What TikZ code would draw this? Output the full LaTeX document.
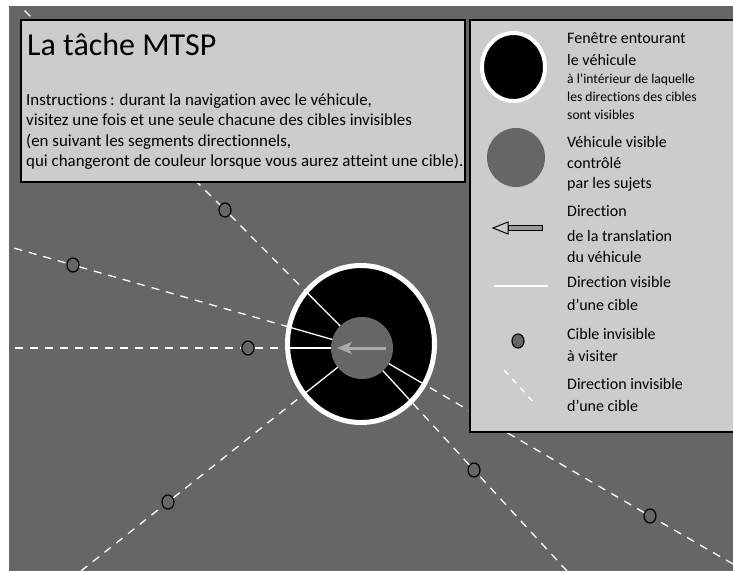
\documentclass[tikz,border=0pt]{standalone}
\usepackage{fontspec}
\setmainfont{Carlito}[Ligatures=NoCommon]
\usetikzlibrary{shapes.geometric,arrows.meta}
\definecolor{bggray}{HTML}{666666}
\definecolor{boxgray}{HTML}{CCCCCC}
\definecolor{arrowgray}{HTML}{AAAAAA}
\definecolor{shaftgray}{HTML}{999999}
\begin{document}
\begin{tikzpicture}[x=1pt,y=-1pt,
  invis/.style={draw=white, line width=1.3pt, dash pattern=on 8pt off 7pt},
  vis/.style={draw=white, line width=1.3pt},
  target/.style={ellipse, draw=black, line width=1.2pt, fill=bggray, minimum width=12pt, minimum height=14pt, inner sep=0pt},
  panel/.style={draw=black, line width=1.5pt, fill=boxgray, inner sep=0pt},
  bigtxt/.style={anchor=base west, inner sep=0pt, font=\fontsize{16}{18}\selectfont},
  smalltxt/.style={anchor=base west, inner sep=0pt, font=\fontsize{13.6}{15}\selectfont},
  instr/.style={anchor=base west, inner sep=0pt, font=\fontsize{16.9}{18}\selectfont},
]
\useasboundingbox (0,0) rectangle (733,571);
\fill[white] (0,0) rectangle (733,571);
\begin{scope}
\clip (9,6) rectangle (733,571);
\fill[bggray] (9,6) rectangle (733,571);
% centre of the vehicle and far ends of the rays
\coordinate (c) at (362,348);
\coordinate (e1) at (14,0);
\coordinate (e2) at (0,244);
\coordinate (e3) at (0,348);
\coordinate (e4) at (81,571);
\coordinate (e5) at (567,571);
\coordinate (e6) at (733,564);
% targets
\node[target] (t1) at (225,210) {};
\node[target] (t2) at (73,265) {};
\node[target] (t3) at (248,348) {};
\node[target] (t4) at (168,502) {};
\node[target] (t5) at (474,470) {};
\node[target] (t6) at (650,516) {};
% invisible directions
\foreach \i in {1,...,6}{
  \draw[invis] (e\i) -- (t\i) -- (c);
}
% window
\node[ellipse, fill=black, draw=white, line width=5pt, minimum width=147pt, minimum height=157pt, inner sep=0pt] (win) at (361,344) {};
% visible directions inside the window
\begin{scope}
\clip (361,344) ellipse [x radius=73pt, y radius=78pt];
\foreach \i in {1,...,6}{
  \draw[vis] (c) -- (t\i);
}
\end{scope}
% vehicle
\node[circle, fill=bggray, minimum size=62pt, inner sep=0pt] (veh) at (362,348) {};
\coordinate (as) at (386,348);
\coordinate (ae) at (337,348);
\draw[arrowgray, line width=3pt, -{Stealth[length=15pt,width=12pt,inset=4pt]}] (as) -- (ae);
% title box
\node[panel, anchor=north west, minimum width=444pt, minimum height=162pt] (tbox) at (20,19) {};
% legend box
\node[panel, anchor=north west, minimum width=290pt, minimum height=412pt] (lbox) at (469,19) {};
\end{scope}
% title texts
\node[anchor=base west, inner sep=0pt, font=\fontsize{32}{36}\selectfont] (title) at (27,55) {La tâche MTSP};
\node[instr] (i1) at (26,105) {Instructions\,: durant la navigation avec le véhicule,};
\node[instr] (i2) at (26,125.5) {visitez une fois et une seule chacune des cibles invisibles};
\node[instr] (i3) at (26,146) {(en suivant les segments directionnels,};
\node[instr] (i4) at (26,166.5) {qui changeront de couleur lorsque vous aurez atteint une cible).};
% legend symbols
\node[ellipse, fill=black, draw=white, line width=4pt, minimum width=63pt, minimum height=68pt, inner sep=0pt] (lwin) at (513.5,67) {};
\node[ellipse, fill=bggray, minimum width=58pt, minimum height=59pt, inner sep=0pt] (lveh) at (516,157.5) {};
\draw[line width=1pt, fill=shaftgray] (508,225.5) rectangle (542,230.5);
\draw[line width=1pt, fill=boxgray] (493,228) -- (508,222) -- (508,234) -- cycle;
\coordinate (lv1) at (494,286);
\coordinate (lv2) at (548,286);
\draw[vis] (lv1) -- (lv2);
\node[target] (lt) at (518,341) {};
\coordinate (ld1) at (504,370);
\coordinate (ld2) at (536,405);
\draw[draw=white, line width=1.3pt, dash pattern=on 6pt off 6pt] (ld1) -- (ld2);
% legend texts
\node[bigtxt] (l1) at (567,43) {Fenêtre entourant};
\node[bigtxt] (l2) at (567,65) {le véhicule};
\node[smalltxt] (l3) at (567,83.5) {à l’intérieur de laquelle};
\node[smalltxt] (l4) at (567,101) {les directions des cibles};
\node[smalltxt] (l5) at (567,119.5) {sont visibles};
\node[bigtxt] (l6) at (567,147) {Véhicule visible};
\node[bigtxt] (l7) at (567,168) {contrôlé};
\node[bigtxt] (l8) at (567,188.5) {par les sujets};
\node[bigtxt] (l9) at (567,216) {Direction};
\node[bigtxt] (l10) at (567,241) {de la translation};
\node[bigtxt] (l11) at (567,262) {du véhicule};
\node[bigtxt] (l12) at (567,287) {Direction visible};
\node[bigtxt] (l13) at (567,310) {d’une cible};
\node[bigtxt] (l14) at (567,339) {Cible invisible};
\node[bigtxt] (l15) at (567,361) {à visiter};
\node[bigtxt] (l16) at (567,389) {Direction invisible};
\node[bigtxt] (l17) at (567,411) {d’une cible};
\end{tikzpicture}
\end{document}
